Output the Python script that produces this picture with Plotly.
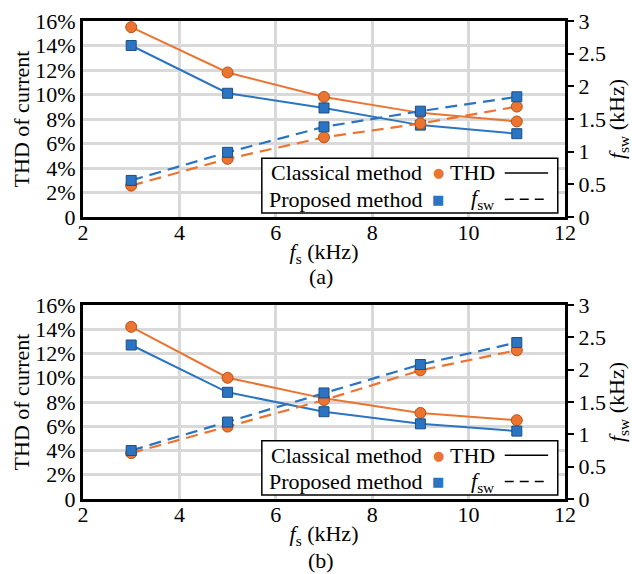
import plotly.graph_objects as go

# ---------------- data ----------------
fs_khz = [3, 5, 7, 9, 11]

# (a)
thd_classical_a = [15.5, 11.8, 9.8, 8.5, 7.8]
thd_proposed_a = [14.0, 10.1, 8.9, 7.5, 6.8]
fsw_classical_a = [0.48, 0.89, 1.22, 1.43, 1.69]
fsw_proposed_a = [0.56, 0.99, 1.38, 1.62, 1.84]

# (b)
thd_classical_b = [14.2, 10.0, 8.3, 7.1, 6.5]
thd_proposed_b = [12.7, 8.8, 7.2, 6.2, 5.6]
fsw_classical_b = [0.71, 1.12, 1.53, 1.99, 2.30]
fsw_proposed_b = [0.75, 1.19, 1.64, 2.08, 2.42]

x_ticks = [2, 4, 6, 8, 10, 12]
thd_tickvals = [0, 2, 4, 6, 8, 10, 12, 14, 16]
thd_ticktext = ["0", "2%", "4%", "6%", "8%", "10%", "12%", "14%", "16%"]
fsw_tickvals = [0, 0.5, 1, 1.5, 2, 2.5, 3]
fsw_ticktext = ["0", "0.5", "1", "1.5", "2", "2.5", "3"]

legend_rows = [("Classical method", "THD"), ("Proposed method", "<i>f</i><sub>sw</sub>")]
captions = ["(a)", "(b)"]

# ---------------- style ----------------
FONT = "Liberation Serif, Times New Roman, serif"
FS = 22
ORANGE = "#EB7430"
ORANGE_EDGE = "#B6541A"
BLUE = "#2B74C1"
BLUE_EDGE = "#1C4F86"
GRID = "#D9D9D9"

fig = go.Figure()


def add_panel(xa, ya, ya2, thd_c, thd_p, fsw_c, fsw_p):
    common = dict(x=fs_khz, mode="lines+markers", showlegend=False, xaxis=xa)
    fig.add_trace(go.Scatter(y=thd_c, yaxis=ya, line=dict(color=ORANGE, width=2),
                             marker=dict(symbol="circle", size=11, color=ORANGE,
                                         line=dict(color=ORANGE_EDGE, width=1)), **common))
    fig.add_trace(go.Scatter(y=thd_p, yaxis=ya, line=dict(color=BLUE, width=2),
                             marker=dict(symbol="square", size=10, color=BLUE,
                                         line=dict(color=BLUE_EDGE, width=1)), **common))
    fig.add_trace(go.Scatter(y=fsw_c, yaxis=ya2, line=dict(color=ORANGE, width=2.2, dash="12px,7px"),
                             marker=dict(symbol="circle", size=11, color=ORANGE,
                                         line=dict(color=ORANGE_EDGE, width=1)), **common))
    fig.add_trace(go.Scatter(y=fsw_p, yaxis=ya2, line=dict(color=BLUE, width=2.2, dash="12px,7px"),
                             marker=dict(symbol="square", size=10, color=BLUE,
                                         line=dict(color=BLUE_EDGE, width=1)), **common))


add_panel("x", "y", "y2", thd_classical_a, thd_proposed_a, fsw_classical_a, fsw_proposed_a)
add_panel("x2", "y3", "y4", thd_classical_b, thd_proposed_b, fsw_classical_b, fsw_proposed_b)

xdom = [83 / 632, 565 / 632]
ydom_a = [1 - 217 / 574, 1 - 21 / 574]
ydom_b = [1 - 499 / 574, 1 - 305 / 574]

tickfont = dict(family=FONT, size=FS, color="black")


def xaxis_cfg(anchor):
    return dict(domain=xdom, anchor=anchor, range=[2, 12], tickvals=x_ticks,
                showgrid=True, gridcolor=GRID, gridwidth=2.5, zeroline=False,
                showline=True, linecolor="black", linewidth=3, mirror=True,
                ticks="", tickfont=tickfont, automargin=False, ticklabelstandoff=-6,
                title=dict(text="<i>f</i><sub>s</sub> (kHz)", font=tickfont, standoff=0))


def yaxis_cfg(anchor, dom):
    return dict(domain=dom, anchor=anchor, range=[0, 16], tickvals=thd_tickvals,
                ticktext=thd_ticktext, showgrid=True, gridcolor=GRID, gridwidth=2.5,
                zeroline=False, showline=True, linecolor="black", linewidth=3, mirror=True,
                ticks="", tickfont=tickfont, automargin=False,
                title=dict(text="THD of current", font=tickfont, standoff=0))


def yaxis2_cfg(anchor, over):
    return dict(anchor=anchor, overlaying=over, side="right", range=[0, 3],
                tickvals=fsw_tickvals, ticktext=fsw_ticktext, showgrid=False, zeroline=False,
                showline=True, linecolor="black", linewidth=3, automargin=False,
                ticks="outside", ticklen=6, tickwidth=2, tickcolor="black", tickfont=tickfont,
                title=dict(text="<i>f</i><sub>sw</sub> (kHz)", font=tickfont, standoff=0))


fig.update_layout(
    width=632, height=574,
    margin=dict(l=0, r=0, t=0, b=0),
    paper_bgcolor="white", plot_bgcolor="white",
    font=dict(family=FONT, size=FS, color="black"),
    xaxis=xaxis_cfg("y"), yaxis=yaxis_cfg("x", ydom_a), yaxis2=yaxis2_cfg("x", "y"),
    xaxis2=xaxis_cfg("y3"), yaxis3=yaxis_cfg("x2", ydom_b), yaxis4=yaxis2_cfg("x2", "y3"),
)

# ---------------- custom legends ----------------
shapes = []
annotations = []
for xr, yr in [("x", "y"), ("x2", "y3")]:
    xref = f"{xr} domain"
    yref = f"{yr} domain"
    shapes.append(dict(type="rect", xref=xref, yref=yref, x0=0.371, x1=0.985, y0=0.02, y1=0.30,
                       fillcolor="white", line=dict(color="black", width=1.5), layer="above"))
    row_y = [0.225, 0.09]
    marker_txt = [f"<span style='color:{ORANGE}'>●</span>", f"<span style='color:{BLUE}'>■</span>"]
    for i, (method, qty) in enumerate(legend_rows):
        annotations.append(dict(xref=xref, yref=yref, x=0.708, y=row_y[i], text=method,
                                showarrow=False, xanchor="right", yanchor="middle",
                                font=dict(family=FONT, size=FS)))
        annotations.append(dict(xref=xref, yref=yref, x=0.737, y=row_y[i], text=marker_txt[i],
                                showarrow=False, xanchor="center", yanchor="middle",
                                font=dict(family="DejaVu Sans", size=13)))
        annotations.append(dict(xref=xref, yref=yref, x=0.758 if i == 0 else 0.80, y=row_y[i],
                                text=qty, showarrow=False, xanchor="left", yanchor="middle",
                                font=dict(family=FONT, size=FS)))
        shapes.append(dict(type="line", xref=xref, yref=yref, x0=0.875, x1=0.965,
                           y0=row_y[i], y1=row_y[i], layer="above",
                           line=dict(color="black", width=1.5,
                                     dash="solid" if i == 0 else "9px,6px")))

annotations.append(dict(xref="paper", yref="paper", x=0.508, y=1 - 277 / 574, text=captions[0],
                        showarrow=False, xanchor="center", yanchor="middle",
                        font=dict(family=FONT, size=FS)))
annotations.append(dict(xref="paper", yref="paper", x=0.508, y=1 - 560 / 574, text=captions[1],
                        showarrow=False, xanchor="center", yanchor="middle",
                        font=dict(family=FONT, size=FS)))

fig.update_layout(shapes=shapes, annotations=annotations)

fig.write_html("out.html", config={"displayModeBar": False},
               post_script="document.body.style.margin='0px';document.body.style.overflow='hidden';")
